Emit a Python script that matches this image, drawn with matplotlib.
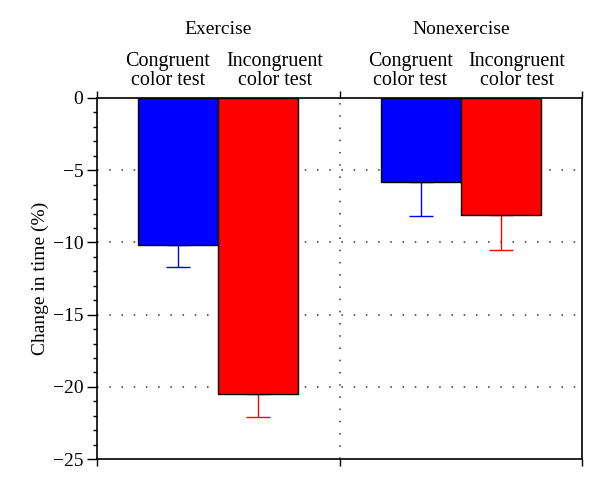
import numpy as np
import matplotlib.pyplot as plt
from matplotlib.ticker import MultipleLocator

plt.rcParams['font.family'] = ['Liberation Serif', 'DejaVu Serif']

groups = ['Exercise', 'Nonexercise']
tests = ['Congruent\ncolor test', 'Incongruent\ncolor test']
congruent = [-10.2, -5.8]
incongruent = [-20.5, -8.1]
congruent_err = [1.5, 2.4]
incongruent_err = [1.6, 2.4]
bar_colors = ['#0000ff', '#ff0000']
yticks = [-25, -20, -15, -10, -5, 0]

fig = plt.figure(figsize=(6, 4.9), dpi=100)
ax = fig.add_axes([0.162, 0.063, 0.808, 0.737])

centers = np.arange(len(groups)) + 0.5
w = 0.33

series = [(congruent, congruent_err), (incongruent, incongruent_err)]
for i, (vals, errs) in enumerate(series):
    xs = centers + (i - 0.5) * w
    ax.bar(xs, vals, width=w, color=bar_colors[i], edgecolor='black', linewidth=1, zorder=3)
    ax.errorbar(xs, vals, yerr=[errs, [0] * len(errs)], fmt='none',
                ecolor=bar_colors[i], elinewidth=1, capsize=8.5, capthick=1, zorder=2)

ax.set_xlim(0, 2)
ax.set_ylim(-25, 0)

# dotted grid
for yv in yticks[1:-1]:
    ax.axhline(yv, color='#333333', linestyle=(0, (1, 7)), linewidth=1.1, zorder=1)
ax.axvline(1, color='#333333', linestyle=(0, (1, 7)), linewidth=1.1, zorder=1)

ax.set_yticks(yticks)
ax.set_yticklabels([str(v).replace('-', '\u2212') for v in yticks])
ax.yaxis.set_minor_locator(MultipleLocator(1))
ax.tick_params(axis='y', which='major', direction='out', length=7, width=1, labelsize=14, pad=3)
ax.tick_params(axis='y', which='minor', direction='out', length=3, width=1)

ax.set_xticks([0, 1, 2])
ax.tick_params(axis='x', which='major', direction='out', length=5, width=1,
               top=True, bottom=True, labelbottom=False, labeltop=False)

for s in ax.spines.values():
    s.set_linewidth(1.2)

ax.set_ylabel('Change in time (%)', fontsize=14, labelpad=3)

tr = ax.get_xaxis_transform()
for gi, g in enumerate(groups):
    ax.text(centers[gi], 1.19, g, transform=tr, ha='center', va='center', fontsize=14)
    ax.text(centers[gi] - 0.033, 1.075, tests[0], transform=tr, ha='right', va='center',
            multialignment='center', fontsize=14.5, linespacing=1.05)
    ax.text(centers[gi] + 0.033, 1.075, tests[1], transform=tr, ha='left', va='center',
            multialignment='center', fontsize=14.5, linespacing=1.05)

fig.savefig('out.png', dpi=100)
